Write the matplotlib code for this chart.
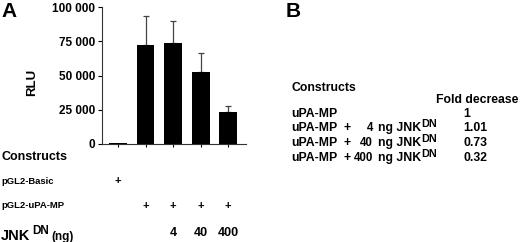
import matplotlib
matplotlib.use("Agg")
import matplotlib.pyplot as plt

plt.rcParams['font.family'] = ['Liberation Sans', 'DejaVu Sans']
plt.rcParams['font.weight'] = 'bold'

# Data
bar_labels = ["pGL2-Basic", "uPA-MP", "uPA-MP+4", "uPA-MP+40", "uPA-MP+400"]
rlu = [1000, 72300, 73500, 52800, 23600]
rlu_err = [0, 21300, 16500, 13800, 4100]
yticks = [0, 25000, 50000, 75000, 100000]
ytick_labels = ["0", "25 000", "50 000", "75 000", "100 000"]
basic_plus = [1, 0, 0, 0, 0]
uPA_plus = [0, 1, 1, 1, 1]
jnk_doses = ["", "", "4", "40", "400"]

table_rows = ["uPA-MP", "uPA-MP", "uPA-MP", "uPA-MP"]
table_plus = ["", "+", "+", "+"]
table_doses = ["", "4", "40", "400"]
fold_decrease = ["1", "1.01", "0.73", "0.32"]

W, H = 520, 242
fig = plt.figure(figsize=(W / 100, H / 100), dpi=100)
renderer = fig.canvas.get_renderer()

def fx(x):
    return x / W

def fy(y):
    return 1 - y / H

# Axes A: axis x 102..246, y 7..144
ax = fig.add_axes([fx(102), fy(144), fx(246 - 102), (144 - 7) / H])
xs = list(range(len(rlu)))
ax.bar(xs, rlu, width=0.65, color='black', zorder=2)
ax.errorbar(xs[1:], rlu[1:], yerr=[[0] * 4, rlu_err[1:]], fmt='none',
            ecolor='#444444', elinewidth=0.9, capsize=2, capthick=0.9, zorder=1)
ax.set_xlim(-0.58, 4.65)
ax.set_ylim(0, 100000)
ax.set_yticks(yticks)
ax.set_yticklabels(ytick_labels, fontsize=8.5, fontweight='bold')
ax.set_xticks(xs)
ax.set_xticklabels([])
ax.tick_params(axis='y', length=3, width=0.8, pad=2)
ax.tick_params(axis='x', length=2.5, width=0.8)
for s in ['top', 'right']:
    ax.spines[s].set_visible(False)
for s in ['left', 'bottom']:
    ax.spines[s].set_linewidth(0.8)
    ax.spines[s].set_color('#333333')
fig.text(fx(32), fy(82), "RLU", fontsize=9.5, fontweight='bold', rotation=90,
         ha='center', va='center')

def bar_px(i):
    return 118 + 27.5 * i

fig.text(fx(1), fy(11.5), "A", fontsize=15, fontweight='bold', va='center', ha='left')
fig.text(fx(1), fy(157), "Constructs", fontsize=9, fontweight='bold', va='center', ha='left')
fig.text(fx(1), fy(181), "pGL2-Basic", fontsize=6.8, fontweight='bold', va='center', ha='left')
fig.text(fx(1), fy(206), "pGL2-uPA-MP", fontsize=6.8, fontweight='bold', va='center', ha='left')
fig.text(fx(1), fy(235.5), "JNK", fontsize=10.5, fontweight='bold', va='center', ha='left')
fig.text(fx(32), fy(231.5), "DN", fontsize=8.5, fontweight='bold', va='center', ha='left')
fig.text(fx(51), fy(237), "(ng)", fontsize=8.5, fontweight='bold', va='center', ha='left')
for i in xs:
    if basic_plus[i]:
        fig.text(fx(bar_px(i)), fy(181), "+", fontsize=8, fontweight='bold', ha='center', va='center')
    if uPA_plus[i]:
        fig.text(fx(bar_px(i)), fy(206), "+", fontsize=8, fontweight='bold', ha='center', va='center')
    if jnk_doses[i]:
        fig.text(fx(bar_px(i)), fy(233), jnk_doses[i], fontsize=9, fontweight='bold', ha='center', va='center')

# Panel B
fs = 8.8
fig.text(fx(286), fy(11.5), "B", fontsize=15, fontweight='bold', va='center', ha='left')
fig.text(fx(291), fy(88), "Constructs", fontsize=fs, fontweight='bold', va='center', ha='left')
fig.text(fx(436), fy(100), "Fold decrease", fontsize=fs, fontweight='bold', va='center', ha='left')
row_y = [114, 128, 143, 158]
for name, plus, dose, fold, y in zip(table_rows, table_plus, table_doses, fold_decrease, row_y):
    fig.text(fx(291), fy(y), name, fontsize=fs, fontweight='bold', va='center', ha='left')
    if plus:
        fig.text(fx(347), fy(y), plus, fontsize=fs, fontweight='bold', va='center', ha='center')
    if dose:
        fig.text(fx(373), fy(y), dose, fontsize=8.3, fontweight='bold', va='center', ha='right')
        t = fig.text(fx(378), fy(y), "ng JNK", fontsize=fs, fontweight='bold', va='center', ha='left')
        bb = t.get_window_extent(renderer)
        fig.text(bb.x1 / W + 0.5 / W, fy(y - 4), "DN", fontsize=7.8, fontweight='bold',
                 va='center', ha='left')
    fig.text(fx(463), fy(y), fold, fontsize=fs, fontweight='bold', va='center', ha='left')

fig.savefig("out.png", dpi=100)
